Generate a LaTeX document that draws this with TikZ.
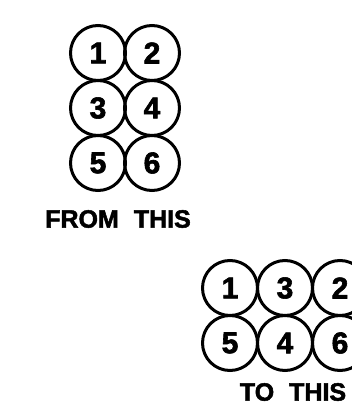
\documentclass[tikz,border=0pt]{standalone}
\usepackage{fontspec}
\setmainfont{Liberation Sans}[BoldFeatures={FakeBold=2}]
\usetikzlibrary{positioning}
\tikzset{
  pin circle/.style={draw, circle, line width=3pt, minimum size=55pt, inner sep=0pt,
    font=\fontsize{30}{30}\selectfont\bfseries},
  caption text/.style={inner sep=0pt, font=\fontsize{25}{25}\selectfont\bfseries},
}

\begin{document}
\begin{tikzpicture}[x=1pt, y=-1pt]
  \useasboundingbox (0,0) rectangle (352,409);
  \clip (0,0) rectangle (352,409);
  % old order
  \foreach \n/\x/\y in {1/98/53, 2/152/53, 3/98/108, 4/152/108, 5/98/163, 6/152/163}
    \node[pin circle] (from\n) at (\x,\y) {\n};
  \node[caption text] (fromlabel) at (118,219) {FROM\hspace{0.6em}THIS};
  % new order
  \foreach \n/\x/\y in {1/230/288, 3/285/288, 2/340/288, 5/230/343, 4/285/343, 6/340/343}
    \node[pin circle] (to\n) at (\x,\y) {\n};
  \node[caption text] (tolabel) at (293,392) {TO\hspace{0.6em}THIS};
\end{tikzpicture}
\end{document}
